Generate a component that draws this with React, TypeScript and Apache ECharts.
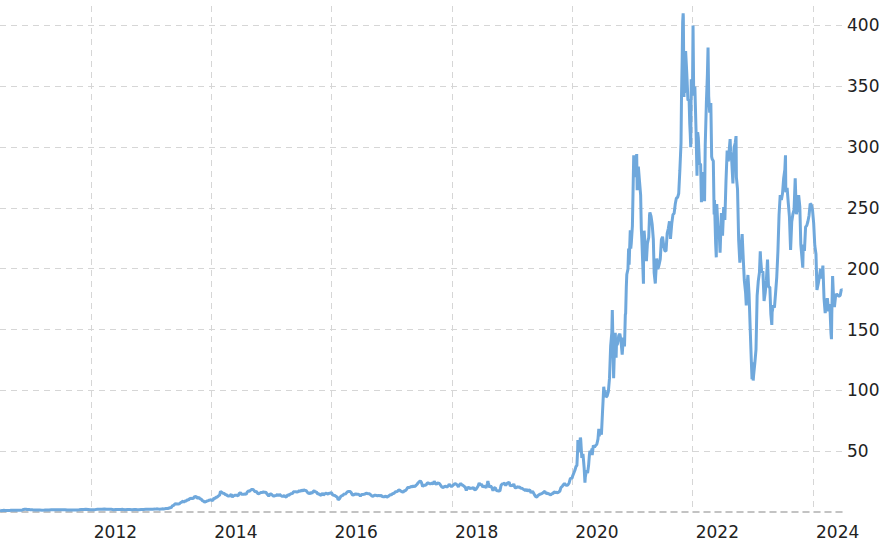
import React, { useEffect, useRef } from "react";
import * as echarts from "echarts";

type Pt = [string, number];

const yearTicks = ["2012", "2014", "2016", "2018", "2020", "2022", "2024"];
const priceTicks = [50, 100, 150, 200, 250, 300, 350, 400];

const p2010: Pt[] = [
  ["2010-06-29", 1.59], ["2010-07-01", 1.46], ["2010-07-06", 1.07], ["2010-07-09", 1.17], ["2010-07-16", 1.27],
  ["2010-07-23", 1.39], ["2010-07-30", 1.32], ["2010-08-06", 1.30], ["2010-08-13", 1.31], ["2010-08-20", 1.31],
  ["2010-08-27", 1.26], ["2010-09-03", 1.38], ["2010-09-10", 1.36], ["2010-09-17", 1.36], ["2010-09-24", 1.40],
  ["2010-10-01", 1.37], ["2010-10-08", 1.39], ["2010-10-15", 1.40], ["2010-10-22", 1.40], ["2010-10-29", 1.45],
  ["2010-11-05", 1.45], ["2010-11-12", 1.71], ["2010-11-19", 2.09], ["2010-11-26", 2.28], ["2010-12-03", 2.24],
  ["2010-12-10", 2.04], ["2010-12-17", 2.06], ["2010-12-23", 2.01], ["2010-12-31", 1.77],
];

const p2011: Pt[] = [
  ["2011-01-14", 1.75], ["2011-01-28", 1.61], ["2011-02-11", 1.57], ["2011-02-25", 1.57], ["2011-03-11", 1.53],
  ["2011-03-25", 1.58], ["2011-04-08", 1.65], ["2011-04-22", 1.74], ["2011-05-06", 1.84], ["2011-05-20", 1.87],
  ["2011-06-03", 1.93], ["2011-06-17", 1.79], ["2011-07-01", 1.93], ["2011-07-15", 1.86], ["2011-07-29", 1.87],
  ["2011-08-12", 1.64], ["2011-08-26", 1.58], ["2011-09-09", 1.60], ["2011-09-23", 1.72], ["2011-10-07", 1.74],
  ["2011-10-21", 1.89], ["2011-11-04", 2.05], ["2011-11-18", 2.14], ["2011-12-02", 2.20], ["2011-12-16", 2.09],
  ["2011-12-30", 1.90],
];

const p2012: Pt[] = [
  ["2012-01-13", 1.77], ["2012-01-27", 1.94], ["2012-02-10", 2.23], ["2012-02-24", 2.23], ["2012-03-09", 2.30],
  ["2012-03-23", 2.45], ["2012-04-06", 2.25], ["2012-04-20", 2.20], ["2012-05-04", 2.20], ["2012-05-18", 1.90],
  ["2012-06-01", 2.05], ["2012-06-15", 2.12], ["2012-06-29", 2.09], ["2012-07-13", 2.16], ["2012-07-27", 1.85],
  ["2012-08-10", 2.00], ["2012-08-24", 2.00], ["2012-09-07", 1.95], ["2012-09-21", 2.07], ["2012-10-05", 1.96],
  ["2012-10-19", 1.92], ["2012-11-02", 2.12], ["2012-11-16", 2.15], ["2012-11-30", 2.25], ["2012-12-14", 2.30],
  ["2012-12-31", 2.26],
];

const p2013: Pt[] = [
  ["2013-01-11", 2.36], ["2013-01-25", 2.37], ["2013-02-08", 2.58], ["2013-02-22", 2.30], ["2013-03-08", 2.58],
  ["2013-03-22", 2.54], ["2013-04-01", 2.89], ["2013-04-12", 2.88], ["2013-04-26", 3.52], ["2013-05-03", 3.66],
  ["2013-05-10", 5.07], ["2013-05-17", 5.25], ["2013-05-24", 6.34], ["2013-05-29", 6.96], ["2013-06-07", 6.50],
  ["2013-06-14", 6.53], ["2013-06-21", 6.72], ["2013-06-28", 7.60], ["2013-07-05", 8.10], ["2013-07-15", 8.92],
  ["2013-07-19", 7.96], ["2013-07-26", 8.97], ["2013-08-02", 9.06], ["2013-08-09", 10.18], ["2013-08-16", 9.73],
  ["2013-08-23", 10.89], ["2013-08-30", 11.23], ["2013-09-06", 11.12], ["2013-09-13", 11.01], ["2013-09-20", 12.39],
  ["2013-09-30", 12.93], ["2013-10-04", 11.80], ["2013-10-11", 11.35], ["2013-10-18", 12.12], ["2013-10-25", 10.74],
  ["2013-11-01", 10.77], ["2013-11-08", 9.18], ["2013-11-15", 9.01], ["2013-11-22", 8.13], ["2013-11-29", 8.50],
  ["2013-12-06", 9.13], ["2013-12-13", 9.22], ["2013-12-20", 9.77], ["2013-12-31", 10.03],
];

const p2014: Pt[] = [
  ["2014-01-10", 9.33], ["2014-01-17", 11.36], ["2014-01-24", 11.06], ["2014-01-31", 12.08], ["2014-02-07", 12.36],
  ["2014-02-14", 13.23], ["2014-02-21", 13.92], ["2014-02-26", 16.94], ["2014-03-07", 16.12], ["2014-03-14", 15.34],
  ["2014-03-21", 15.14], ["2014-03-28", 14.08], ["2014-04-04", 14.22], ["2014-04-11", 13.13], ["2014-04-17", 13.22],
  ["2014-04-25", 13.32], ["2014-05-02", 14.59], ["2014-05-09", 12.21], ["2014-05-16", 13.33], ["2014-05-23", 13.70],
  ["2014-05-30", 13.83], ["2014-06-06", 13.80], ["2014-06-13", 13.23], ["2014-06-20", 15.20], ["2014-06-27", 15.93],
  ["2014-07-03", 14.57], ["2014-07-11", 14.60], ["2014-07-18", 14.56], ["2014-07-25", 14.93], ["2014-08-01", 14.55],
  ["2014-08-08", 16.55], ["2014-08-15", 17.25], ["2014-08-22", 17.10], ["2014-08-29", 18.06], ["2014-09-05", 18.60],
  ["2014-09-12", 18.58], ["2014-09-19", 17.39], ["2014-09-26", 16.53], ["2014-10-03", 16.83], ["2014-10-10", 15.23],
  ["2014-10-17", 15.09], ["2014-10-24", 15.64], ["2014-10-31", 16.13], ["2014-11-07", 16.07], ["2014-11-14", 16.47],
  ["2014-11-21", 16.14], ["2014-11-28", 16.30], ["2014-12-05", 14.88], ["2014-12-12", 13.88], ["2014-12-16", 13.05],
  ["2014-12-24", 14.85], ["2014-12-31", 14.83],
];

const p2015: Pt[] = [
  ["2015-01-09", 13.58], ["2015-01-16", 12.88], ["2015-01-23", 13.46], ["2015-01-30", 13.57], ["2015-02-06", 14.48],
  ["2015-02-13", 13.37], ["2015-02-20", 14.52], ["2015-02-27", 13.53], ["2015-03-06", 12.99], ["2015-03-13", 12.86],
  ["2015-03-20", 13.61], ["2015-03-27", 12.41], ["2015-04-02", 12.51], ["2015-04-10", 14.02], ["2015-04-17", 13.79],
  ["2015-04-24", 14.58], ["2015-05-01", 15.10], ["2015-05-08", 15.13], ["2015-05-15", 16.57], ["2015-05-22", 16.55],
  ["2015-05-29", 16.67], ["2015-06-05", 16.50], ["2015-06-12", 16.69], ["2015-06-19", 17.48], ["2015-06-26", 16.92],
  ["2015-07-02", 18.06], ["2015-07-10", 17.30], ["2015-07-17", 18.31], ["2015-07-24", 17.72], ["2015-07-31", 17.77],
  ["2015-08-07", 16.15], ["2015-08-14", 15.50], ["2015-08-21", 15.35], ["2015-08-24", 14.61], ["2015-08-28", 16.55],
  ["2015-09-04", 15.32], ["2015-09-11", 16.67], ["2015-09-18", 17.47], ["2015-09-25", 16.35], ["2015-10-02", 16.46],
  ["2015-10-09", 14.70], ["2015-10-16", 15.01], ["2015-10-23", 14.04], ["2015-10-30", 13.76], ["2015-11-06", 15.55],
  ["2015-11-13", 13.96], ["2015-11-20", 14.67], ["2015-11-27", 15.39], ["2015-12-04", 15.29], ["2015-12-11", 14.65],
  ["2015-12-18", 15.44], ["2015-12-24", 15.35], ["2015-12-31", 16.00],
];

const p2016: Pt[] = [
  ["2016-01-08", 14.14], ["2016-01-15", 13.76], ["2016-01-22", 13.51], ["2016-01-29", 12.75], ["2016-02-05", 12.21],
  ["2016-02-10", 9.91], ["2016-02-12", 10.09], ["2016-02-19", 11.04], ["2016-02-26", 12.73], ["2016-03-04", 13.47],
  ["2016-03-11", 13.75], ["2016-03-18", 15.15], ["2016-03-24", 14.48], ["2016-04-01", 15.82], ["2016-04-08", 16.67],
  ["2016-04-15", 16.93], ["2016-04-22", 16.90], ["2016-04-29", 16.03], ["2016-05-06", 14.22], ["2016-05-13", 13.96],
  ["2016-05-20", 14.63], ["2016-05-27", 14.85], ["2016-06-03", 14.59], ["2016-06-10", 14.62], ["2016-06-17", 14.33],
  ["2016-06-24", 12.98], ["2016-07-01", 14.42], ["2016-07-08", 14.41], ["2016-07-15", 14.60], ["2016-07-22", 14.82],
  ["2016-07-29", 15.58], ["2016-08-05", 15.21], ["2016-08-12", 15.02], ["2016-08-19", 14.98], ["2016-08-26", 14.11],
  ["2016-09-02", 13.14], ["2016-09-09", 12.97], ["2016-09-16", 13.72], ["2016-09-23", 13.76], ["2016-09-30", 13.60],
  ["2016-10-07", 13.31], ["2016-10-14", 13.64], ["2016-10-21", 13.40], ["2016-10-28", 13.53], ["2016-11-04", 12.77],
  ["2016-11-11", 12.61], ["2016-11-18", 12.60], ["2016-11-25", 13.10], ["2016-12-02", 12.13], ["2016-12-09", 12.84],
  ["2016-12-16", 13.46], ["2016-12-23", 14.18], ["2016-12-30", 14.25],
];

const p2017: Pt[] = [
  ["2017-01-06", 15.29], ["2017-01-13", 15.14], ["2017-01-20", 16.29], ["2017-01-27", 16.75], ["2017-02-03", 16.77],
  ["2017-02-10", 17.94], ["2017-02-17", 18.16], ["2017-02-24", 17.16], ["2017-03-03", 16.75], ["2017-03-10", 16.19],
  ["2017-03-17", 17.44], ["2017-03-24", 17.55], ["2017-03-31", 18.55], ["2017-04-07", 20.16], ["2017-04-14", 20.19],
  ["2017-04-21", 20.35], ["2017-04-28", 20.94], ["2017-05-05", 20.61], ["2017-05-12", 21.60], ["2017-05-19", 20.70],
  ["2017-05-26", 21.68], ["2017-06-02", 22.63], ["2017-06-09", 23.81], ["2017-06-16", 24.83], ["2017-06-23", 25.52],
  ["2017-06-30", 24.11], ["2017-07-07", 20.92], ["2017-07-14", 21.91], ["2017-07-21", 21.97], ["2017-07-28", 22.34],
  ["2017-08-04", 23.79], ["2017-08-11", 23.82], ["2017-08-18", 23.13], ["2017-08-25", 23.22], ["2017-09-01", 23.74],
  ["2017-09-08", 22.91], ["2017-09-15", 25.31], ["2017-09-22", 23.44], ["2017-09-29", 22.74], ["2017-10-06", 23.76],
  ["2017-10-13", 23.71], ["2017-10-20", 22.85], ["2017-10-27", 21.31], ["2017-11-03", 20.34], ["2017-11-10", 20.18],
  ["2017-11-17", 20.97], ["2017-11-24", 21.14], ["2017-12-01", 20.42], ["2017-12-08", 21.22], ["2017-12-15", 22.86],
  ["2017-12-22", 21.75], ["2017-12-29", 20.76],
];

const p2018: Pt[] = [
  ["2018-01-05", 21.64], ["2018-01-12", 22.43], ["2018-01-19", 23.45], ["2018-01-26", 22.90], ["2018-02-02", 22.22],
  ["2018-02-09", 20.67], ["2018-02-16", 22.33], ["2018-02-23", 23.34], ["2018-03-02", 22.36], ["2018-03-09", 21.89],
  ["2018-03-16", 21.10], ["2018-03-23", 20.20], ["2018-03-29", 17.74], ["2018-04-06", 19.92], ["2018-04-13", 20.09],
  ["2018-04-20", 19.38], ["2018-04-27", 19.61], ["2018-05-04", 19.61], ["2018-05-11", 20.07], ["2018-05-18", 18.35],
  ["2018-05-25", 18.52], ["2018-06-01", 19.72], ["2018-06-08", 21.18], ["2018-06-15", 23.94], ["2018-06-22", 22.23],
  ["2018-06-29", 22.86], ["2018-07-06", 20.61], ["2018-07-13", 21.19], ["2018-07-20", 20.90], ["2018-07-27", 19.87],
  ["2018-08-03", 23.19], ["2018-08-07", 25.30], ["2018-08-10", 23.71], ["2018-08-17", 20.37], ["2018-08-24", 21.35],
  ["2018-08-31", 20.11], ["2018-09-07", 17.55], ["2018-09-14", 19.68], ["2018-09-21", 19.95], ["2018-09-28", 17.65],
  ["2018-10-05", 17.40], ["2018-10-12", 17.24], ["2018-10-19", 17.37], ["2018-10-26", 21.99], ["2018-11-02", 23.07],
  ["2018-11-09", 23.35], ["2018-11-16", 23.69], ["2018-11-23", 21.72], ["2018-11-30", 23.37], ["2018-12-07", 23.91],
  ["2018-12-14", 24.41], ["2018-12-21", 21.30], ["2018-12-31", 22.19],
];

const p2019: Pt[] = [
  ["2019-01-04", 21.18], ["2019-01-11", 23.15], ["2019-01-18", 20.15], ["2019-01-25", 19.80], ["2019-02-01", 20.85],
  ["2019-02-08", 20.37], ["2019-02-15", 20.57], ["2019-02-22", 19.51], ["2019-03-01", 19.63], ["2019-03-08", 18.93],
  ["2019-03-15", 18.36], ["2019-03-22", 17.60], ["2019-03-29", 18.66], ["2019-04-05", 17.13], ["2019-04-12", 17.93],
  ["2019-04-18", 18.21], ["2019-04-26", 15.80], ["2019-05-03", 16.93], ["2019-05-10", 15.94], ["2019-05-17", 14.06],
  ["2019-05-24", 12.64], ["2019-05-31", 12.34], ["2019-06-03", 11.93], ["2019-06-07", 13.63], ["2019-06-14", 14.23],
  ["2019-06-21", 14.74], ["2019-06-28", 14.92], ["2019-07-05", 15.61], ["2019-07-12", 16.36], ["2019-07-19", 16.97],
  ["2019-07-26", 15.19], ["2019-08-02", 15.54], ["2019-08-09", 15.01], ["2019-08-16", 14.63], ["2019-08-23", 14.08],
  ["2019-08-30", 15.04], ["2019-09-06", 15.21], ["2019-09-13", 16.48], ["2019-09-20", 16.01], ["2019-09-27", 16.16],
  ["2019-10-04", 15.77], ["2019-10-11", 16.46], ["2019-10-18", 17.25], ["2019-10-24", 20.10], ["2019-11-01", 21.00],
  ["2019-11-08", 22.47], ["2019-11-15", 23.48], ["2019-11-22", 22.20], ["2019-11-29", 21.99], ["2019-12-06", 22.39],
  ["2019-12-13", 23.86], ["2019-12-20", 27.49], ["2019-12-31", 27.89],
];

const p2020: Pt[] = [
  ["2020-01-03", 29.53], ["2020-01-10", 31.88], ["2020-01-17", 34.28], ["2020-01-24", 37.63], ["2020-01-29", 38.01],
  ["2020-01-31", 43.37], ["2020-02-03", 52.00], ["2020-02-04", 59.14], ["2020-02-05", 48.98], ["2020-02-07", 49.93],
  ["2020-02-14", 53.34], ["2020-02-19", 61.16], ["2020-02-21", 60.07], ["2020-02-28", 44.53], ["2020-03-06", 47.72],
  ["2020-03-13", 36.44], ["2020-03-18", 24.08], ["2020-03-20", 28.51], ["2020-03-27", 34.33], ["2020-04-03", 32.00],
  ["2020-04-09", 38.20], ["2020-04-14", 47.00], ["2020-04-17", 50.11], ["2020-04-24", 48.34], ["2020-04-30", 52.13],
  ["2020-05-01", 46.75], ["2020-05-08", 54.74], ["2020-05-15", 53.28], ["2020-05-22", 54.68], ["2020-05-29", 55.67],
  ["2020-06-05", 59.87], ["2020-06-10", 68.34], ["2020-06-12", 62.35], ["2020-06-19", 66.73], ["2020-06-26", 63.58],
  ["2020-07-02", 80.58], ["2020-07-06", 91.44], ["2020-07-10", 102.98], ["2020-07-13", 99.80], ["2020-07-17", 100.06],
  ["2020-07-24", 94.47], ["2020-07-31", 95.38], ["2020-08-07", 99.00], ["2020-08-14", 110.05], ["2020-08-21", 136.67],
  ["2020-08-28", 147.56], ["2020-08-31", 166.11], ["2020-09-04", 139.44], ["2020-09-08", 110.07], ["2020-09-11", 124.24],
  ["2020-09-18", 147.25], ["2020-09-23", 126.79], ["2020-09-25", 136.70], ["2020-10-02", 138.36], ["2020-10-09", 145.00],
  ["2020-10-16", 146.56], ["2020-10-23", 140.21], ["2020-10-30", 129.35], ["2020-11-06", 143.32], ["2020-11-13", 136.17],
  ["2020-11-18", 162.21], ["2020-11-20", 163.20], ["2020-11-24", 185.13], ["2020-11-27", 195.25], ["2020-12-04", 199.68],
  ["2020-12-08", 216.63], ["2020-12-11", 203.33], ["2020-12-18", 231.67], ["2020-12-21", 216.62], ["2020-12-24", 220.59],
  ["2020-12-31", 235.22],
];

const p2021: Pt[] = [
  ["2021-01-08", 293.34], ["2021-01-15", 275.39], ["2021-01-22", 282.21], ["2021-01-26", 294.36], ["2021-01-29", 264.51],
  ["2021-02-05", 284.03], ["2021-02-12", 272.04], ["2021-02-19", 260.43], ["2021-02-23", 232.95], ["2021-02-26", 225.17],
  ["2021-03-05", 199.32], ["2021-03-08", 187.67], ["2021-03-09", 224.53], ["2021-03-12", 231.24], ["2021-03-19", 218.29],
  ["2021-03-26", 206.24], ["2021-04-01", 220.58], ["2021-04-09", 225.67], ["2021-04-14", 244.08], ["2021-04-16", 246.28],
  ["2021-04-23", 243.13], ["2021-04-30", 236.48], ["2021-05-07", 224.12], ["2021-05-12", 196.63], ["2021-05-19", 187.82],
  ["2021-05-21", 193.63], ["2021-05-28", 208.41], ["2021-06-04", 199.68], ["2021-06-11", 203.30], ["2021-06-18", 207.77],
  ["2021-06-25", 223.96], ["2021-07-02", 226.30], ["2021-07-09", 218.98], ["2021-07-16", 214.74], ["2021-07-23", 214.46],
  ["2021-07-30", 229.07], ["2021-08-06", 233.03], ["2021-08-13", 239.06], ["2021-08-19", 224.49], ["2021-08-27", 237.31],
  ["2021-09-03", 244.52], ["2021-09-10", 245.42], ["2021-09-17", 253.16], ["2021-09-24", 258.13], ["2021-10-01", 258.41],
  ["2021-10-08", 261.83], ["2021-10-15", 281.01], ["2021-10-22", 303.23], ["2021-10-25", 341.62], ["2021-10-29", 371.33],
  ["2021-11-01", 402.86], ["2021-11-04", 409.97], ["2021-11-05", 407.36], ["2021-11-09", 341.17], ["2021-11-10", 355.98],
  ["2021-11-12", 344.47], ["2021-11-16", 351.58], ["2021-11-19", 379.02], ["2021-11-26", 360.64], ["2021-12-03", 338.32],
  ["2021-12-10", 339.01], ["2021-12-14", 319.50], ["2021-12-17", 310.86], ["2021-12-20", 299.98], ["2021-12-23", 355.67],
  ["2021-12-31", 352.26],
];

const p2022: Pt[] = [
  ["2022-01-03", 399.93], ["2022-01-07", 342.32], ["2022-01-14", 349.87], ["2022-01-21", 314.63], ["2022-01-27", 276.37],
  ["2022-01-31", 312.24], ["2022-02-04", 307.77], ["2022-02-11", 286.67], ["2022-02-18", 285.66], ["2022-02-23", 254.68],
  ["2022-02-25", 269.96], ["2022-03-04", 279.43], ["2022-03-11", 265.12], ["2022-03-14", 255.46], ["2022-03-18", 301.80],
  ["2022-03-25", 336.88], ["2022-03-31", 359.20], ["2022-04-04", 381.82], ["2022-04-08", 341.83], ["2022-04-14", 328.33],
  ["2022-04-21", 336.26], ["2022-04-26", 292.14], ["2022-04-29", 290.25], ["2022-05-06", 288.55], ["2022-05-11", 244.67],
  ["2022-05-13", 256.53], ["2022-05-20", 221.30], ["2022-05-24", 209.39], ["2022-05-27", 253.21], ["2022-06-03", 234.52],
  ["2022-06-10", 232.23], ["2022-06-16", 213.10], ["2022-06-17", 216.76], ["2022-06-24", 245.71], ["2022-07-01", 227.26],
  ["2022-07-08", 250.76], ["2022-07-15", 240.07], ["2022-07-22", 272.24], ["2022-07-29", 297.15], ["2022-08-05", 288.17],
  ["2022-08-12", 300.03], ["2022-08-16", 306.56], ["2022-08-19", 296.67], ["2022-08-26", 288.09], ["2022-09-02", 270.21],
  ["2022-09-09", 299.68], ["2022-09-16", 303.35], ["2022-09-21", 309.07], ["2022-09-23", 275.33], ["2022-09-30", 265.25],
  ["2022-10-07", 223.07], ["2022-10-14", 204.99], ["2022-10-21", 214.44], ["2022-10-28", 228.52], ["2022-11-04", 207.47],
  ["2022-11-10", 190.72], ["2022-11-18", 180.19], ["2022-11-22", 169.91], ["2022-11-25", 182.86], ["2022-12-02", 194.86],
  ["2022-12-09", 179.05], ["2022-12-16", 150.23], ["2022-12-23", 123.15], ["2022-12-27", 109.10], ["2022-12-30", 123.18],
];

const p2023: Pt[] = [
  ["2023-01-03", 108.10], ["2023-01-06", 113.06], ["2023-01-13", 122.40], ["2023-01-20", 133.42], ["2023-01-27", 177.90],
  ["2023-02-03", 189.98], ["2023-02-10", 196.89], ["2023-02-15", 214.24], ["2023-02-17", 208.31], ["2023-02-24", 196.88],
  ["2023-03-03", 197.79], ["2023-03-10", 173.44], ["2023-03-17", 180.13], ["2023-03-24", 190.41], ["2023-03-31", 207.46],
  ["2023-04-06", 185.06], ["2023-04-14", 185.00], ["2023-04-20", 162.99], ["2023-04-26", 153.75], ["2023-04-28", 164.31],
  ["2023-05-05", 170.06], ["2023-05-12", 167.98], ["2023-05-19", 180.14], ["2023-05-26", 193.17], ["2023-06-02", 213.97],
  ["2023-06-09", 244.40], ["2023-06-16", 260.54], ["2023-06-23", 256.60], ["2023-06-30", 261.77], ["2023-07-07", 274.43],
  ["2023-07-14", 281.38], ["2023-07-18", 293.34], ["2023-07-20", 262.90], ["2023-07-28", 266.44], ["2023-08-04", 253.86],
  ["2023-08-11", 242.65], ["2023-08-18", 215.49], ["2023-08-25", 238.59], ["2023-09-01", 245.01], ["2023-09-08", 248.50],
  ["2023-09-15", 274.39], ["2023-09-22", 244.88], ["2023-09-29", 250.22], ["2023-10-06", 260.53], ["2023-10-13", 251.12],
  ["2023-10-19", 220.11], ["2023-10-27", 207.30], ["2023-10-31", 200.84], ["2023-11-03", 219.96], ["2023-11-10", 214.65],
  ["2023-11-17", 234.30], ["2023-11-24", 235.45], ["2023-12-01", 238.83], ["2023-12-08", 243.84], ["2023-12-15", 253.50],
  ["2023-12-22", 252.54], ["2023-12-29", 248.48],
];

const p2024: Pt[] = [
  ["2024-01-05", 237.49], ["2024-01-12", 218.89], ["2024-01-19", 212.19], ["2024-01-25", 182.63], ["2024-02-02", 187.91],
  ["2024-02-09", 193.57], ["2024-02-16", 199.95], ["2024-02-23", 191.97], ["2024-03-01", 202.64], ["2024-03-08", 175.34],
  ["2024-03-15", 163.57], ["2024-03-22", 170.83], ["2024-03-28", 175.79], ["2024-04-05", 164.90], ["2024-04-12", 171.05],
  ["2024-04-19", 147.05], ["2024-04-22", 142.05], ["2024-04-24", 162.13], ["2024-04-29", 194.05], ["2024-05-03", 181.19],
  ["2024-05-10", 168.47], ["2024-05-17", 177.46], ["2024-05-24", 179.24], ["2024-05-31", 178.08], ["2024-06-07", 177.48],
  ["2024-06-14", 178.01], ["2024-06-21", 183.01], ["2024-06-24", 182.58],
];

const xMin = "2010-06-29";
const xMax = "2024-06-25";

export default function App() {
  const ref = useRef<HTMLDivElement>(null);

  useEffect(() => {
    if (!ref.current) return;
    const chart = echarts.init(ref.current, undefined, { renderer: "svg" });
    const data = [
      ...p2010, ...p2011, ...p2012, ...p2013, ...p2014, ...p2015, ...p2016,
      ...p2017, ...p2018, ...p2019, ...p2020, ...p2021, ...p2022, ...p2023, ...p2024,
    ];
    const twoYears = 2 * 365.25 * 24 * 3600 * 1000;
    const gridColor = "#d6d6d6";
    chart.setOption({
      animation: false,
      backgroundColor: "#ffffff",
      textStyle: { fontFamily: "Verdana, 'DejaVu Sans', sans-serif" },
      grid: { left: 0, right: 43, top: 6, bottom: 29, containLabel: false, outerBoundsMode: "none" },
      xAxis: {
        type: "time",
        min: xMin,
        max: xMax,
        splitNumber: 7,
        minInterval: twoYears,
        maxInterval: twoYears,
        axisLine: { show: true, lineStyle: { color: "#b0b0b0", width: 1.5, type: [6, 5] } },
        axisTick: { show: false },
        axisLabel: {
          show: true,
          showMinLabel: false,
          showMaxLabel: false,
          color: "#222222",
          fontSize: 17,
          fontFamily: "Verdana, 'DejaVu Sans', sans-serif",
          align: "left",
          padding: [0, 0, 0, 3],
          margin: 11,
          formatter: (v: number) => {
            const y = String(new Date(v).getFullYear());
            return yearTicks.includes(y) ? y : "";
          },
        },
        splitLine: {
          show: true,
          showMinLine: false,
          showMaxLine: false,
          lineStyle: { color: gridColor, width: 1, type: [6, 5] },
        },
      },
      yAxis: {
        type: "value",
        position: "right",
        min: 0,
        max: 416,
        interval: 50,
        axisLine: { show: false },
        axisTick: { show: false },
        axisLabel: {
          show: true,
          showMinLabel: false,
          showMaxLabel: false,
          color: "#222222",
          fontSize: 17,
          fontFamily: "Verdana, 'DejaVu Sans', sans-serif",
          margin: 5,
          formatter: (v: number) => (priceTicks.includes(v) ? String(v) : ""),
        },
        splitLine: {
          show: true,
          showMinLine: false,
          showMaxLine: false,
          lineStyle: { color: gridColor, width: 1, type: [6, 5] },
        },
      },
      series: [
        {
          type: "line",
          data,
          showSymbol: false,
          symbol: "none",
          clip: false,
          lineStyle: { color: "#6fa8dc", width: 3 },
          itemStyle: { color: "#6fa8dc" },
        },
      ],
    });
    return () => chart.dispose();
  }, []);

  return (
    <div
      ref={ref}
      style={{ position: "fixed", left: 0, top: 0, width: 885, height: 541, background: "#fff" }}
    />
  );
}
